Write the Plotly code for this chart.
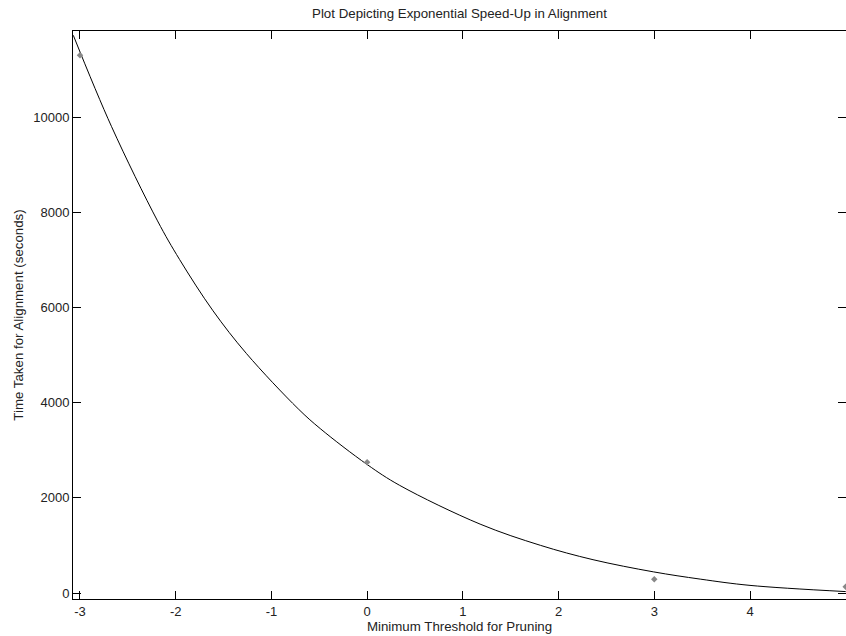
import plotly.graph_objects as go

# Fitted curve
curve_x = [-3.07, -2.67, -2.19, -1.96, -1.61, -1.26, -0.72, -0.49, 0.0, 0.34, 1.18, 1.81, 2.36, 2.99, 3.48, 4.0, 5.0]
curve_y = [11720, 9800, 7820, 7010, 5930, 5030, 3870, 3455, 2700, 2262, 1448, 1002, 700, 445, 292, 160, 30]

# Measured points
pts_x = [-3, 0, 3, 5]
pts_y = [11300, 2750, 290, 130]

x_ticks = [-3, -2, -1, 0, 1, 2, 3, 4, 5]
x_labels = ["-3", "-2", "-1", "0", "1", "2", "3", "4", "5"]
y_ticks = [0, 2000, 4000, 6000, 8000, 10000]
y_labels = ["0", "2000", "4000", "6000", "8000", "10000"]

font = "Liberation Sans, Arial, sans-serif"

fig = go.Figure()
fig.add_trace(go.Scatter(x=curve_x, y=curve_y, mode="lines", line=dict(color="black", width=1, shape="spline", smoothing=1.0),
                         showlegend=False, hoverinfo="skip"))
fig.add_trace(go.Scatter(x=pts_x, y=pts_y, mode="markers", marker=dict(symbol="diamond", size=5, color="#888888"),
                         showlegend=False, cliponaxis=False))
# right-side ticks only
fig.add_trace(go.Scatter(x=[None], y=[None], yaxis="y2", showlegend=False))

fig.update_layout(
    width=846, height=636,
    margin=dict(l=73, r=0, t=31, b=37),
    paper_bgcolor="white", plot_bgcolor="white",
    font=dict(family=font, size=13, color="#222222"),
    title=dict(text="Plot Depicting Exponential Speed-Up in Alignment", x=(73 + 846) / 2 / 846, xanchor="center",
               y=1 - 13 / 636, yanchor="middle", yref="container", font=dict(size=13.3, color="#222222")),
    xaxis=dict(range=[-3.073, 5.003], tickvals=x_ticks, ticktext=x_labels, ticks="inside", ticklen=8, tickcolor="black",
               showline=True, linecolor="black", linewidth=1, mirror="ticks", showgrid=False, zeroline=False,
               automargin=False,
               title=dict(text="Minimum Threshold for Pruning", font=dict(size=13.3), standoff=1)),
    yaxis=dict(range=[-126, 11810], tickvals=y_ticks, ticktext=y_labels, ticks="inside", ticklen=8, tickcolor="black",
               showline=True, linecolor="black", linewidth=1, showgrid=False, zeroline=False,
               automargin=False,
               title=dict(text="Time Taken for Alignment (seconds)", font=dict(size=13.3), standoff=6)),
    yaxis2=dict(range=[-126, 11810], tickvals=y_ticks, overlaying="y", side="right", ticks="inside", ticklen=8,
                tickcolor="black", showticklabels=False, showline=False, showgrid=False, zeroline=False,
                automargin=False),
)

fig.write_html("out.html", config={"displayModeBar": False},
               post_script="document.body.style.margin='0';document.body.style.overflow='hidden';")
